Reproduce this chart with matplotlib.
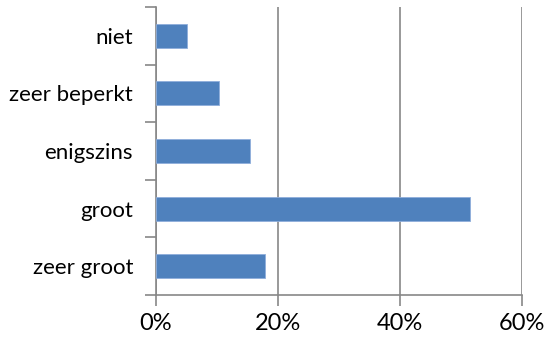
import matplotlib.pyplot as plt
from matplotlib.ticker import PercentFormatter

categories = ["zeer groot", "groot", "enigszins", "zeer beperkt", "niet"]
values = [17.9, 51.4, 15.4, 10.3, 5.0]
xticks = [0, 20, 40, 60]

W, H = 549, 342
fig = plt.figure(figsize=(W / 100, H / 100), dpi=100)
ax = fig.add_axes([156 / W, (H - 295) / H, (522 - 156) / W, (295 - 7) / H])

ax.barh(range(len(categories)), values, height=0.42, color="#4F81BD",
        edgecolor="#8FAEDB", linewidth=0.6, zorder=3)

ax.set_xlim(0, 60)
ax.set_ylim(-0.5, len(categories) - 0.5)
ax.set_xticks(xticks)
ax.xaxis.set_major_formatter(PercentFormatter(decimals=0))
ax.set_yticks(range(len(categories)))
ax.set_yticklabels(categories)
ax.set_yticks([i - 0.5 for i in range(len(categories) + 1)], minor=True)

ax.grid(axis="x", color="#878787", linewidth=1.2, zorder=0)
for s in ["top", "right"]:
    ax.spines[s].set_visible(False)
for s in ["left", "bottom"]:
    ax.spines[s].set_color("#878787")
    ax.spines[s].set_linewidth(1.2)

ax.tick_params(axis="x", length=8, width=1.2, color="#878787", labelsize=17,
               pad=5, labelcolor="black")
ax.tick_params(axis="y", which="major", length=0, labelsize=16, pad=16.5)
ax.tick_params(axis="y", which="minor", length=8, width=1.2, color="#878787")
for lab in ax.get_xticklabels() + ax.get_yticklabels():
    lab.set_family(["Lato", "DejaVu Sans"])

fig.savefig("out.png", dpi=100)
